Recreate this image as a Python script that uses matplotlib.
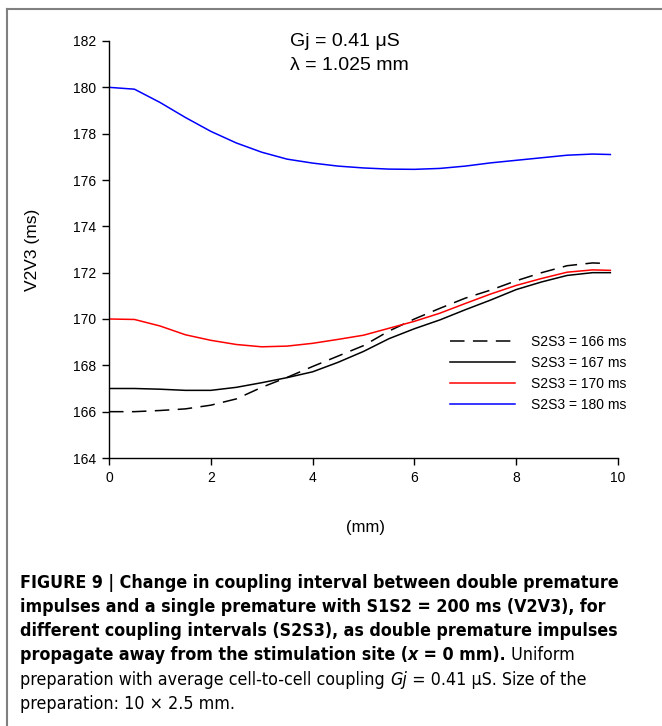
import matplotlib
matplotlib.use("Agg")
import matplotlib.pyplot as plt
from matplotlib.lines import Line2D
from matplotlib import font_manager

plt.rcParams['font.family'] = ['Liberation Sans', 'DejaVu Sans']

# distance from stimulation site (mm)
dist = [0, 0.5, 1.0, 1.5, 2.0, 2.5, 3.0, 3.5, 4.0, 4.5, 5.0, 5.5,
        6.0, 6.5, 7.0, 7.5, 8.0, 8.5, 9.0, 9.5, 9.85]

# V2V3 (ms) for each S2S3 coupling interval
v_166 = [166.0, 166.0, 166.05, 166.12, 166.28, 166.55, 167.05, 167.48, 167.95, 168.4, 168.85,
         169.48, 170.0, 170.46, 170.9, 171.25, 171.65, 172.0, 172.3, 172.42, 172.4]
v_167 = [167.0, 167.0, 166.97, 166.92, 166.92, 167.05, 167.25, 167.47, 167.72, 168.13, 168.6,
         169.15, 169.58, 169.96, 170.4, 170.82, 171.27, 171.6, 171.88, 172.0, 172.0]
v_170 = [170.0, 169.98, 169.7, 169.32, 169.08, 168.9, 168.8, 168.83, 168.95, 169.12, 169.3,
         169.6, 169.9, 170.25, 170.67, 171.08, 171.45, 171.75, 172.02, 172.12, 172.1]
v_180 = [180.0, 179.92, 179.35, 178.7, 178.1, 177.6, 177.2, 176.9, 176.73, 176.6, 176.52,
         176.47, 176.46, 176.5, 176.6, 176.74, 176.85, 176.96, 177.07, 177.12, 177.1]

labels = ['S2S3 = 166 ms', 'S2S3 = 167 ms', 'S2S3 = 170 ms', 'S2S3 = 180 ms']
xticks = [0, 2, 4, 6, 8, 10]
yticks = [164, 166, 168, 170, 172, 174, 176, 178, 180, 182]

W, H = 662, 726
fig = plt.figure(figsize=(W / 100, H / 100), dpi=100)
ax = fig.add_axes([109 / W, 1 - 458 / H, (618 - 109) / W, (458 - 41) / H])

ax.plot(dist[:-1] + [9.75], v_166[:-1] + [v_166[-1]], color='black', lw=1.1,
        dashes=(9.5, 5.5), label=labels[0])
ax.plot(dist, v_167, color='black', lw=1.1, label=labels[1])
ax.plot(dist, v_170, color='#ff0000', lw=1.1, label=labels[2])
ax.plot(dist, v_180, color='#0000ff', lw=1.1, label=labels[3])

ax.set_xlim(0, 10)
ax.set_ylim(164, 182)
ax.set_xticks(xticks)
ax.set_yticks(yticks)
for s in ['top', 'right']:
    ax.spines[s].set_visible(False)
for s in ['left', 'bottom']:
    ax.spines[s].set_linewidth(1.0)
ax.tick_params(direction='out', length=5, width=1.0, labelsize=10, pad=4)
ax.set_ylabel('V2V3 (ms)', fontsize=12.5)
ax.set_xlabel('(mm)', fontsize=12)
ax.yaxis.set_label_coords(-0.136, 0.5)
ax.xaxis.set_label_coords(0.503, -0.149)

ax.legend(loc='upper left', bbox_to_anchor=(450 / W, 1 - 335 / H),
          bbox_transform=fig.transFigure, frameon=False, fontsize=10,
          handlelength=4.7, handletextpad=1.1, labelspacing=0.5,
          borderpad=0, borderaxespad=0)

fig.text(290 / W, 1 - 42 / H, 'Gj = 0.41 \u03bcS', fontsize=14, va='center')
fig.text(290 / W, 1 - 65 / H, '\u03bb = 1.025 mm', fontsize=14, va='center')

# outer frame (open on the right and bottom)
frame_kw = dict(color='#808080', lw=1.5, transform=fig.transFigure)
fig.add_artist(Line2D([7 / W, 1], [1 - 9 / H, 1 - 9 / H], **frame_kw))
fig.add_artist(Line2D([7 / W, 7 / W], [1 - 9 / H, 0], **frame_kw))

# caption font: a narrow face if one is installed
installed = {(f.name, f.stretch) for f in font_manager.fontManager.ttflist}
names = {n for n, _ in installed}
if 'Liberation Sans Narrow' in names:
    cap_font, cap_stretch = 'Liberation Sans Narrow', 'normal'
elif ('DejaVu Sans', 'condensed') in installed:
    cap_font, cap_stretch = 'DejaVu Sans', 'condensed'
else:
    cap_font, cap_stretch = 'Liberation Sans', 'normal'

renderer = fig.canvas.get_renderer()
first_line = 'FIGURE 9 | Change in coupling interval between double premature'
probe = fig.text(0, 0, first_line, fontsize=10, fontweight='bold',
                 family=cap_font, stretch=cap_stretch)
cap_size = 10 * 594 / probe.get_window_extent(renderer=renderer).width
probe.remove()


def draw_runs(y_px, runs):
    x = 20 / W
    for txt, weight, style in runs:
        t = fig.text(x, 1 - y_px / H, txt, fontsize=cap_size, fontweight=weight,
                     fontstyle=style, family=cap_font, stretch=cap_stretch,
                     va='baseline')
        x += t.get_window_extent(renderer=renderer).width / W


B, R = 'bold', 'normal'
draw_runs(588, [(first_line, B, 'normal')])
draw_runs(612, [('impulses and a single premature with S1S2 = 200 ms (V2V3), for', B, 'normal')])
draw_runs(636, [('different coupling intervals (S2S3), as double premature impulses', B, 'normal')])
draw_runs(660, [('propagate away from the stimulation site (', B, 'normal'),
                ('x', B, 'italic'),
                (' = 0 mm).', B, 'normal'),
                (' Uniform', R, 'normal')])
draw_runs(685, [('preparation with average cell-to-cell coupling ', R, 'normal'),
                ('Gj', R, 'italic'),
                (' = 0.41 \u03bcS. Size of the', R, 'normal')])
draw_runs(709, [('preparation: 10 \u00d7 2.5 mm.', R, 'normal')])

fig.savefig('out.png', dpi=100)
